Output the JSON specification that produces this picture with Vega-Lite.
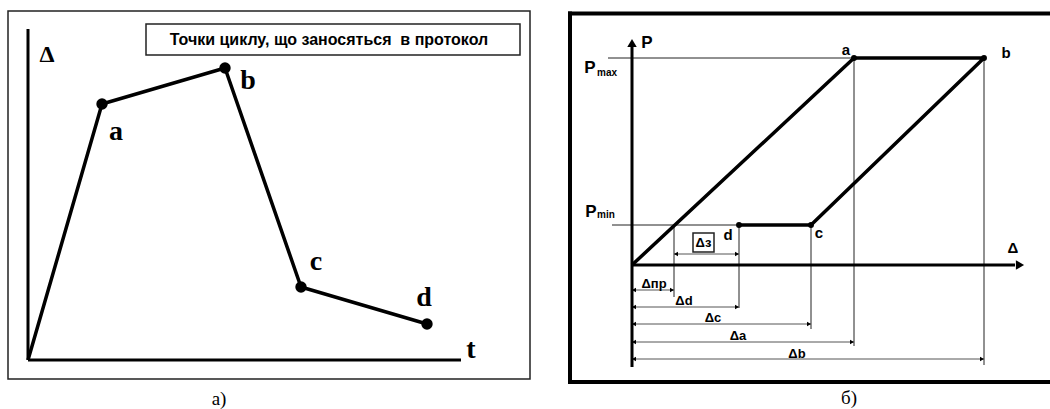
{
  "$schema": "https://vega.github.io/schema/vega-lite/v6.json",
  "padding": 0,
  "spacing": 0,
  "background": "white",
  "config": {"view": {"stroke": null}},
  "datasets": {
    "left_frame": [{"x": -20, "x2": 502, "y": 349, "y2": -19}],
    "left_title_box": [{"x": 118, "x2": 492, "y": 336, "y2": 305}],
    "left_title": [{"x": 301, "y": 315, "label": "Точки циклу, що заносяться \u00a0в протокол"}],
    "left_axes": [
      {"x": 0, "y": 0, "x2": 0, "y2": 331},
      {"x": 0, "y": 0, "x2": 433, "y2": 0}
    ],
    "left_curve": [
      {"x": 0, "y": 0},
      {"x": 74, "y": 256},
      {"x": 197, "y": 292},
      {"x": 273, "y": 73},
      {"x": 399, "y": 36}
    ],
    "left_points": [
      {"x": 74, "y": 256},
      {"x": 197, "y": 292},
      {"x": 273, "y": 73},
      {"x": 399, "y": 36}
    ],
    "left_letters": [
      {"x": 88, "y": 220, "label": "a"},
      {"x": 220, "y": 271, "label": "b"},
      {"x": 288, "y": 90, "label": "c"},
      {"x": 396, "y": 54, "label": "d"},
      {"x": 443, "y": 2, "label": "t"}
    ],
    "left_delta": [{"x": 19, "y": 298, "label": "Δ"}],
    "left_caption": [{"x": 191, "y": -45, "label": "а)"}],
    "right_frame": [
      {"x": -62, "y": 251.5, "x2": 430, "y2": 251.5},
      {"x": -62, "y": 251.5, "x2": -62, "y2": -117},
      {"x": -62, "y": -117, "x2": 430, "y2": -117}
    ],
    "right_thin": [
      {"x": -24, "y": 207, "x2": 222, "y2": 207},
      {"x": -20, "y": 40, "x2": 107, "y2": 40},
      {"x": 42, "y": 40, "x2": 42, "y2": -32},
      {"x": 107, "y": 40, "x2": 107, "y2": -43},
      {"x": 179, "y": 40, "x2": 179, "y2": -64},
      {"x": 222, "y": 207, "x2": 222, "y2": -81},
      {"x": 352, "y": 207, "x2": 352, "y2": -100}
    ],
    "right_dims": [
      {"x": 0, "y": -25, "x2": 42, "y2": -25},
      {"x": 0, "y": -42, "x2": 107, "y2": -42},
      {"x": 0, "y": -59, "x2": 179, "y2": -59},
      {"x": 0, "y": -77, "x2": 222, "y2": -77},
      {"x": 0, "y": -94, "x2": 352, "y2": -94},
      {"x": 42, "y": 11, "x2": 107, "y2": 11}
    ],
    "right_dim_heads": [
      {"x": 2, "y": -25, "dir": "left"},
      {"x": 40, "y": -25, "dir": "right"},
      {"x": 2, "y": -42, "dir": "left"},
      {"x": 105, "y": -42, "dir": "right"},
      {"x": 2, "y": -59, "dir": "left"},
      {"x": 177, "y": -59, "dir": "right"},
      {"x": 2, "y": -77, "dir": "left"},
      {"x": 220, "y": -77, "dir": "right"},
      {"x": 2, "y": -94, "dir": "left"},
      {"x": 350, "y": -94, "dir": "right"},
      {"x": 44, "y": 11, "dir": "left"},
      {"x": 105, "y": 11, "dir": "right"}
    ],
    "right_axes": [
      {"x": 0, "y": -102, "x2": 0, "y2": 218},
      {"x": 0, "y": 0, "x2": 383, "y2": 0}
    ],
    "right_axis_heads": [
      {"x": 0, "y": 222, "dir": "up"},
      {"x": 388, "y": 0, "dir": "right"}
    ],
    "right_cycle": [
      {"x": 0, "y": 0, "i": 0},
      {"x": 222, "y": 207, "i": 1},
      {"x": 352, "y": 207, "i": 2},
      {"x": 179, "y": 40, "i": 3},
      {"x": 107, "y": 40, "i": 4}
    ],
    "right_points": [
      {"x": 222, "y": 207},
      {"x": 352, "y": 207},
      {"x": 179, "y": 40},
      {"x": 107, "y": 40}
    ],
    "right_box": [{"x": 61, "x2": 82, "y": 32, "y2": 13}],
    "right_big_labels": [
      {"x": 15, "y": 217, "label": "P"},
      {"x": -42, "y": 192, "label": "P"},
      {"x": -41, "y": 48, "label": "P"}
    ],
    "right_labels": [
      {"x": 214, "y": 210, "label": "a"},
      {"x": 374, "y": 207, "label": "b"},
      {"x": 96, "y": 25, "label": "d"},
      {"x": 187, "y": 27, "label": "c"},
      {"x": 381, "y": 12, "label": "Δ"}
    ],
    "right_subs": [
      {"x": -35, "y": 189, "label": "max"},
      {"x": -35, "y": 47, "label": "min"}
    ],
    "right_dim_labels": [
      {"x": 22, "y": -23, "label": "Δпр"},
      {"x": 52, "y": -40, "label": "Δd"},
      {"x": 81, "y": -57, "label": "Δc"},
      {"x": 106, "y": -75, "label": "Δa"},
      {"x": 165, "y": -93, "label": "Δb"},
      {"x": 71.5, "y": 18, "label": "Δз"}
    ],
    "right_caption": [{"x": 217, "y": -139, "label": "б)"}]
  },
  "hconcat": [
    {
      "width": 545,
      "height": 409,
      "encoding": {
        "x": {"field": "x", "type": "quantitative", "scale": {"domain": [-28, 517], "nice": false, "zero": false}, "axis": null},
        "y": {"field": "y", "type": "quantitative", "scale": {"domain": [-49, 360], "nice": false, "zero": false}, "axis": null}
      },
      "layer": [
        {
          "data": {"name": "left_frame"},
          "mark": {"type": "rect", "fillOpacity": 0, "stroke": "#222", "strokeWidth": 1.5},
          "encoding": {"x2": {"field": "x2"}, "y2": {"field": "y2"}}
        },
        {
          "data": {"name": "left_title_box"},
          "mark": {"type": "rect", "fill": "white", "stroke": "#222", "strokeWidth": 1.5},
          "encoding": {"x2": {"field": "x2"}, "y2": {"field": "y2"}}
        },
        {
          "data": {"name": "left_title"},
          "mark": {"type": "text", "font": "Liberation Sans", "fontWeight": "bold", "fontSize": 16, "align": "center", "baseline": "alphabetic", "color": "black"},
          "encoding": {"text": {"field": "label"}}
        },
        {
          "data": {"name": "left_axes"},
          "mark": {"type": "rule", "strokeWidth": 3, "color": "black"},
          "encoding": {"x2": {"field": "x2"}, "y2": {"field": "y2"}}
        },
        {
          "data": {"name": "left_curve"},
          "mark": {"type": "line", "strokeWidth": 3.5, "color": "black", "strokeJoin": "round"},
          "encoding": {}
        },
        {
          "data": {"name": "left_points"},
          "mark": {"type": "circle", "size": 130, "color": "black", "opacity": 1},
          "encoding": {}
        },
        {
          "data": {"name": "left_letters"},
          "mark": {"type": "text", "font": "Liberation Serif", "fontWeight": "bold", "fontSize": 28, "align": "center", "baseline": "alphabetic", "color": "black"},
          "encoding": {"text": {"field": "label"}}
        },
        {
          "data": {"name": "left_delta"},
          "mark": {"type": "text", "font": "Liberation Serif", "fontWeight": "bold", "fontSize": 24, "align": "center", "baseline": "alphabetic", "color": "black"},
          "encoding": {"text": {"field": "label"}}
        },
        {
          "data": {"name": "left_caption"},
          "mark": {"type": "text", "font": "Liberation Serif", "fontSize": 19, "align": "center", "baseline": "alphabetic", "color": "black"},
          "encoding": {"text": {"field": "label"}}
        }
      ]
    },
    {
      "width": 505,
      "height": 409,
      "encoding": {
        "x": {"field": "x", "type": "quantitative", "scale": {"domain": [-87, 418], "nice": false, "zero": false}, "axis": null},
        "y": {"field": "y", "type": "quantitative", "scale": {"domain": [-144, 265], "nice": false, "zero": false}, "axis": null}
      },
      "layer": [
        {
          "data": {"name": "right_frame"},
          "mark": {"type": "rule", "strokeWidth": 4, "color": "black", "strokeCap": "square", "clip": true},
          "encoding": {"x2": {"field": "x2"}, "y2": {"field": "y2"}}
        },
        {
          "data": {"name": "right_thin"},
          "mark": {"type": "rule", "strokeWidth": 1, "color": "#222"},
          "encoding": {"x2": {"field": "x2"}, "y2": {"field": "y2"}}
        },
        {
          "data": {"name": "right_dims"},
          "mark": {"type": "rule", "strokeWidth": 1, "color": "#555"},
          "encoding": {"x2": {"field": "x2"}, "y2": {"field": "y2"}}
        },
        {
          "data": {"name": "right_dim_heads"},
          "mark": {"type": "point", "filled": true, "size": 22, "color": "black", "opacity": 1},
          "encoding": {"shape": {"field": "dir", "type": "nominal", "scale": {"domain": ["up", "right", "left"], "range": ["triangle-up", "triangle-right", "triangle-left"]}, "legend": null}}
        },
        {
          "data": {"name": "right_axes"},
          "mark": {"type": "rule", "strokeWidth": 3, "color": "black"},
          "encoding": {"x2": {"field": "x2"}, "y2": {"field": "y2"}}
        },
        {
          "data": {"name": "right_axis_heads"},
          "mark": {"type": "point", "filled": true, "size": 90, "color": "black", "opacity": 1},
          "encoding": {"shape": {"field": "dir", "type": "nominal", "scale": {"domain": ["up", "right", "left"], "range": ["triangle-up", "triangle-right", "triangle-left"]}, "legend": null}}
        },
        {
          "data": {"name": "right_cycle"},
          "mark": {"type": "line", "strokeWidth": 3.5, "color": "black", "strokeJoin": "round"},
          "encoding": {"order": {"field": "i", "type": "quantitative"}}
        },
        {
          "data": {"name": "right_points"},
          "mark": {"type": "circle", "size": 35, "color": "black", "opacity": 1},
          "encoding": {}
        },
        {
          "data": {"name": "right_box"},
          "mark": {"type": "rect", "fill": "white", "stroke": "#222", "strokeWidth": 1.5},
          "encoding": {"x2": {"field": "x2"}, "y2": {"field": "y2"}}
        },
        {
          "data": {"name": "right_big_labels"},
          "mark": {"type": "text", "font": "Liberation Sans", "fontWeight": "bold", "fontSize": 17, "align": "center", "baseline": "alphabetic", "color": "black"},
          "encoding": {"text": {"field": "label"}}
        },
        {
          "data": {"name": "right_labels"},
          "mark": {"type": "text", "font": "Liberation Sans", "fontWeight": "bold", "fontSize": 15, "align": "center", "baseline": "alphabetic", "color": "black"},
          "encoding": {"text": {"field": "label"}}
        },
        {
          "data": {"name": "right_subs"},
          "mark": {"type": "text", "font": "Liberation Sans", "fontWeight": "bold", "fontSize": 10, "align": "left", "baseline": "alphabetic", "color": "black"},
          "encoding": {"text": {"field": "label"}}
        },
        {
          "data": {"name": "right_dim_labels"},
          "mark": {"type": "text", "font": "Liberation Sans", "fontWeight": "bold", "fontSize": 13, "align": "center", "baseline": "alphabetic", "color": "black"},
          "encoding": {"text": {"field": "label"}}
        },
        {
          "data": {"name": "right_caption"},
          "mark": {"type": "text", "font": "Liberation Serif", "fontSize": 19, "align": "center", "baseline": "alphabetic", "color": "black"},
          "encoding": {"text": {"field": "label"}}
        }
      ]
    }
  ]
}
